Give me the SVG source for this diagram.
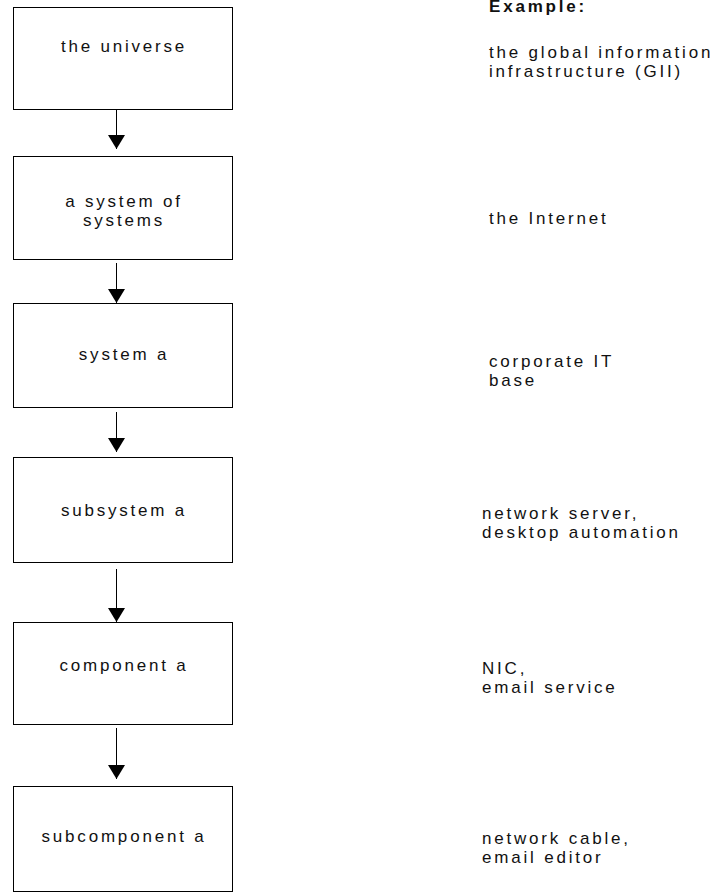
<svg xmlns="http://www.w3.org/2000/svg" width="719" height="893" viewBox="0 0 719 893">
<style>
.box{fill:#fff;stroke:#000;stroke-width:1}
.t{font-family:"Liberation Sans",Arial,sans-serif;font-size:17px;letter-spacing:2.8px;fill:#111}
.c{text-anchor:middle}
.b{font-weight:bold}
.conn line{stroke:#000;stroke-width:1;marker-end:url(#ah)}
</style>
<defs>
<marker id="ah" viewBox="0 -9 14 18" markerWidth="14" markerHeight="18" refX="14" refY="0" orient="auto" markerUnits="userSpaceOnUse">
<path d="M0,-8.5 L14,0 L0,8.5 z" fill="#000"/>
</marker>
</defs>
<rect width="719" height="893" fill="#fff"/>
<g id="n1"><rect class="box" x="13.5" y="7.5" width="219" height="102"/><text class="t c" x="124" y="52">the universe</text></g>
<g id="n2"><rect class="box" x="13.5" y="156.5" width="219" height="103"/><text class="t c" x="124" y="207">a system of</text><text class="t c" x="124" y="226">systems</text></g>
<g id="n3"><rect class="box" x="13.5" y="303.5" width="219" height="104"/><text class="t c" x="124" y="360">system a</text></g>
<g id="n4"><rect class="box" x="13.5" y="457.5" width="219" height="105"/><text class="t c" x="124" y="516">subsystem a</text></g>
<g id="n5"><rect class="box" x="13.5" y="622.5" width="219" height="102"/><text class="t c" x="124" y="671">component a</text></g>
<g id="n6"><rect class="box" x="13.5" y="786.5" width="219" height="105"/><text class="t c" x="124" y="842">subcomponent a</text></g>
<g class="conn">
<line x1="116.5" y1="110" x2="116.5" y2="149"/>
<line x1="116.5" y1="263" x2="116.5" y2="303"/>
<line x1="116.5" y1="412" x2="116.5" y2="452"/>
<line x1="116.5" y1="569" x2="116.5" y2="622"/>
<line x1="116.5" y1="728" x2="116.5" y2="779"/>
</g>
<g id="examples">
<text class="t b" x="489" y="12">Example:</text>
<text class="t" x="489" y="58">the global information</text>
<text class="t" x="489" y="77">infrastructure (GII)</text>
<text class="t" x="489" y="224">the Internet</text>
<text class="t" x="489" y="367">corporate IT</text>
<text class="t" x="489" y="386">base</text>
<text class="t" x="482" y="519">network server,</text>
<text class="t" x="482" y="538">desktop automation</text>
<text class="t" x="482" y="674">NIC,</text>
<text class="t" x="482" y="693">email service</text>
<text class="t" x="482" y="844">network cable,</text>
<text class="t" x="482" y="863">email editor</text>
</g>
</svg>
